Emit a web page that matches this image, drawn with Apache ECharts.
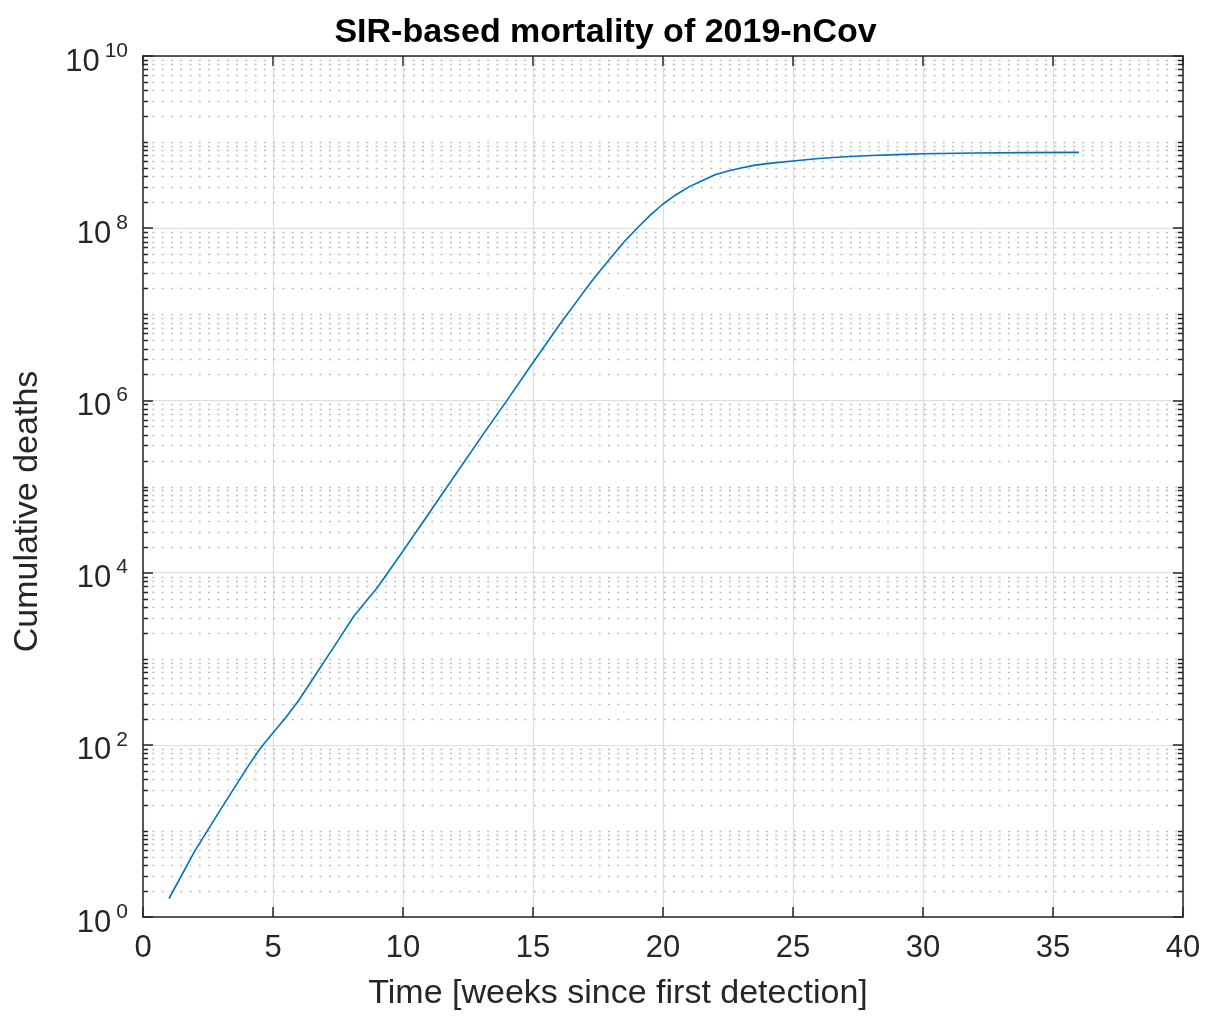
<!DOCTYPE html>
<html>
<head>
<meta charset="utf-8">
<title>SIR-based mortality of 2019-nCov</title>
<script src="https://cdn.jsdelivr.net/npm/echarts@6/dist/echarts.min.js"></script>
<style>
  html, body { margin: 0; padding: 0; background: #fff; }
  #chart { width: 1211px; height: 1016px; }
</style>
</head>
<body>
<div id="chart"></div>
<script>
// weeks since first detection
const weeks = [1, 2, 3, 4, 4.5, 5, 5.5, 6, 6.5, 7, 7.5, 8.1, 9, 10, 11, 12, 13, 14, 15, 16,
  17, 17.5, 18, 18.5, 19, 19.5, 20, 20.5, 21, 21.5, 22, 22.5, 23, 23.5, 24, 25, 26, 27,
  28, 29, 30, 32, 34, 36]
// cumulative deaths
const deaths = [1.64, 5.9, 18, 54, 90, 138, 209, 331, 562, 955, 1620, 3090, 6610, 17800,
  49000, 135000, 372000, 1.0e6, 2.75e6, 7.4e6, 1.91e7, 3.0e7, 4.57e7, 6.9e7, 1.0e8,
  1.41e8, 1.91e8, 2.45e8, 3.02e8, 3.55e8, 4.17e8, 4.62e8, 5.01e8, 5.37e8, 5.62e8, 6.03e8,
  6.46e8, 6.76e8, 7.0e8, 7.16e8, 7.33e8, 7.46e8, 7.55e8, 7.59e8]
// minor grid on the log axis: 2..9 x 10^k, plus odd decades
const minorSteps = [2, 3, 4, 5, 6, 7, 8, 9]
const decades = [0, 1, 2, 3, 4, 5, 6, 7, 8, 9]
const oddDecades = [1, 3, 5, 7, 9]

const minorValues = []
decades.forEach(d => {
  minorSteps.forEach(m => minorValues.push([0, m * Math.pow(10, d)]))
})
oddDecades.forEach(d => minorValues.push([0, Math.pow(10, d)]))

const axisColor = '#262626'
const font = 'Liberation Sans, Helvetica, Arial, sans-serif'

const myChart = echarts.init(document.getElementById('chart'))
const option = {
  backgroundColor: '#ffffff',
  animation: false,
  title: {
    text: 'SIR-based mortality of 2019-nCov',
    left: 'center',
    top: 11,
    textStyle: { fontFamily: font, fontSize: 34, fontWeight: 'bold', color: '#000' }
  },
  grid: { left: 143, right: 28, top: 56, bottom: 99 },
  xAxis: [
    {
      type: 'value',
      min: 0,
      max: 40,
      interval: 5,
      name: 'Time [weeks since first detection]',
      nameLocation: 'middle',
      nameGap: 60,
      nameTextStyle: { fontFamily: font, fontSize: 34, color: axisColor, padding: [0, 90, 0, 0] },
      axisLine: { onZero: false, lineStyle: { color: axisColor, width: 1.5 } },
      axisTick: { inside: true, length: 10, lineStyle: { color: axisColor, width: 1.5 } },
      axisLabel: { fontFamily: font, fontSize: 31, color: axisColor, margin: 16 },
      splitLine: { show: true, lineStyle: { color: '#dcdcdc', width: 1.2 } }
    },
    {
      type: 'value',
      position: 'top',
      min: 0,
      max: 40,
      interval: 5,
      axisLine: { show: true, onZero: false, lineStyle: { color: axisColor, width: 1.5 } },
      axisTick: { inside: true, length: 10, lineStyle: { color: axisColor, width: 1.5 } },
      axisLabel: { show: false },
      splitLine: { show: false }
    }
  ],
  yAxis: [
    {
      type: 'log',
      logBase: 10,
      min: 1,
      max: 1e10,
      interval: 2,
      splitNumber: 5,
      name: 'Cumulative deaths',
      nameLocation: 'middle',
      nameGap: 98,
      nameTextStyle: { fontFamily: font, fontSize: 34, color: axisColor, padding: [0, 50, 0, 0] },
      axisLine: { onZero: false, lineStyle: { color: axisColor, width: 1.5 } },
      axisTick: { inside: true, length: 10, lineStyle: { color: axisColor, width: 1.5 } },
      axisLabel: {
        margin: 15,
        formatter: function (v) {
          const e = Math.round(Math.log10(v))
          return '{b|10}{s|' + e + '}'
        },
        rich: {
          b: { fontFamily: font, fontSize: 31, lineHeight: 43, color: axisColor,
            verticalAlign: 'bottom' },
          s: { fontFamily: font, fontSize: 21, lineHeight: 21, color: axisColor,
            verticalAlign: 'bottom', padding: [0, 0, 16, 5] }
        }
      },
      splitLine: { show: true, lineStyle: { color: '#dcdcdc', width: 1.2 } }
    },
    {
      type: 'log',
      logBase: 10,
      min: 1,
      max: 1e10,
      interval: 2,
      splitNumber: 5,
      position: 'right',
      axisLine: { show: true, onZero: false, lineStyle: { color: axisColor, width: 1.5 } },
      axisTick: { inside: true, length: 10, lineStyle: { color: axisColor, width: 1.5 } },
      axisLabel: { show: false },
      splitLine: { show: false }
    }
  ],
  series: [
    {
      // dotted minor grid and minor ticks on both sides
      type: 'custom',
      silent: true,
      z: 1,
      data: minorValues,
      renderItem: function (params, api) {
        const rect = params.coordSys
        const y = Math.round(api.coord([0, api.value(1)])[1]) + 0.5
        const x0 = rect.x
        const x1 = rect.x + rect.width
        return {
          type: 'group',
          children: [
            {
              type: 'line',
              shape: { x1: x0, y1: y, x2: x1, y2: y },
              style: { stroke: '#bdbdbd', lineWidth: 1.5, lineDash: [2, 7.3] }
            },
            {
              type: 'line',
              shape: { x1: x0, y1: y, x2: x0 + 5, y2: y },
              style: { stroke: axisColor, lineWidth: 1.5 }
            },
            {
              type: 'line',
              shape: { x1: x1 - 5, y1: y, x2: x1, y2: y },
              style: { stroke: axisColor, lineWidth: 1.5 }
            }
          ]
        }
      }
    },
    {
      name: 'deaths',
      type: 'line',
      z: 5,
      showSymbol: false,
      symbol: 'none',
      data: weeks.map((w, i) => [w, deaths[i]]),
      lineStyle: { color: '#0072BD', width: 1.6 }
    }
  ]
}
myChart.setOption(option)
window.onresize = myChart.resize
</script>
</body>
</html>
